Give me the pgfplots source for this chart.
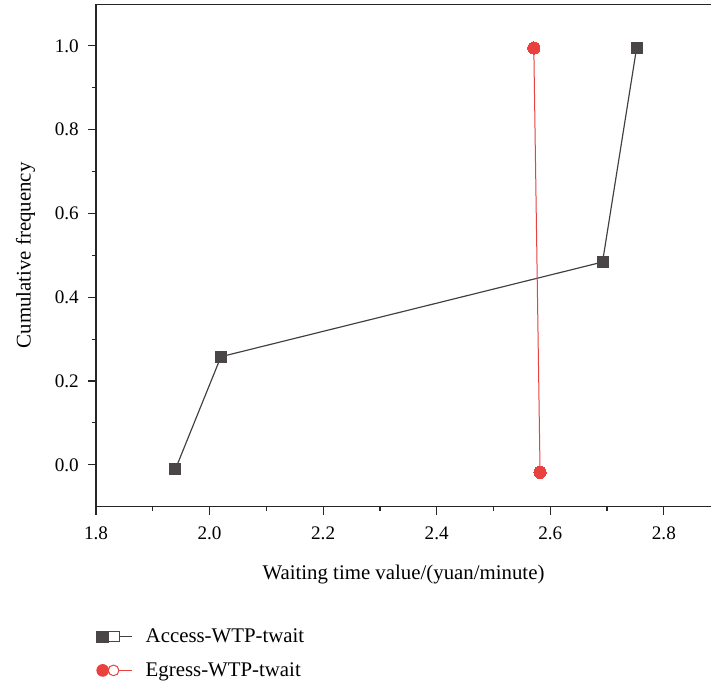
\documentclass[border=0pt]{standalone}
\usepackage{fontspec}
\setmainfont{Liberation Serif}
\usepackage{pgfplots}
\pgfplotsset{compat=1.18}
\definecolor{accgray}{HTML}{4A4546}
\definecolor{linegray}{HTML}{404040}
\definecolor{egred}{HTML}{E8413E}
\begin{document}
\begin{tikzpicture}
\begin{axis}[
  name=ax,
  scale only axis,
  width=369pt, height=301.6pt,
  xmin=1.8, xmax=2.883,
  ymin=-0.1, ymax=1.1,
  axis x line*=bottom,
  axis y line*=left,
  axis line style={line width=0.8pt, black!85},
  xtick={1.8,2.0,2.2,2.4,2.6,2.8},
  ytick={0,0.2,0.4,0.6,0.8,1.0},
  minor x tick num=1,
  minor y tick num=1,
  tick align=outside,
  tick style={line width=0.7pt, black!85},
  major tick length=4.8pt,
  minor tick length=2.4pt,
  xticklabel style={/pgf/number format/fixed, /pgf/number format/fixed zerofill, /pgf/number format/precision=1, yshift=-4pt},
  yticklabel style={/pgf/number format/fixed, /pgf/number format/fixed zerofill, /pgf/number format/precision=1, xshift=-2pt},
  /pgf/number format/assume math mode=true,
  ticklabel style={font=\fontsize{11.5}{13}\selectfont},
  label style={font=\fontsize{12.5}{14}\selectfont},
  xlabel={Waiting time value/(yuan/minute)},
  ylabel={Cumulative frequency},
  xlabel style={yshift=-8pt},
  ylabel style={yshift=5pt},
  legend style={at={(0,-0.235)}, anchor=north west, draw=none, fill=none,
    font=\fontsize{12.5}{14}\selectfont, row sep=6.5pt, cells={anchor=west},
    inner sep=0pt, /tikz/every odd column/.append style={column sep=6pt}},
  legend cell align=left,
]
\draw[line width=0.8pt, black!85] (rel axis cs:0,1) -- (rel axis cs:1,1);
\addplot[color=linegray, line width=0.7pt, mark=square*,
  mark options={fill=accgray, draw=accgray, line width=0pt}, mark size=3.3pt,
  legend image code/.code={
    \draw[linegray, line width=0.6pt] (0pt,0pt) -- (21pt,0pt);
    \fill[accgray] (0pt,-3.2pt) rectangle (7pt,3.2pt);
    \draw[accgray, fill=white, line width=0.6pt] (7pt,-3.2pt) rectangle (13.4pt,3.2pt);
  }]
  coordinates {(1.940,-0.010) (2.020,0.258) (2.692,0.484) (2.752,0.995)};
\addlegendentry{Access-WTP-twait}
\addplot[color=egred, line width=0.6pt, mark=*,
  mark options={fill=egred, draw=egred, line width=0pt}, mark size=3.7pt,
  legend image code/.code={
    \draw[egred, line width=0.6pt] (0pt,0pt) -- (21pt,0pt);
    \fill[egred] (3.5pt,0pt) circle (3.5pt);
    \draw[egred, fill=white, line width=0.6pt] (10pt,0pt) circle (3.2pt);
  }]
  coordinates {(2.571,0.995) (2.582,-0.018)};
\addlegendentry{Egress-WTP-twait}
\end{axis}
\pgfresetboundingbox
\path ([xshift=-57.6pt,yshift=-106.4pt]ax.south west) rectangle ([yshift=2.4pt]ax.north east);
\end{tikzpicture}
\end{document}
